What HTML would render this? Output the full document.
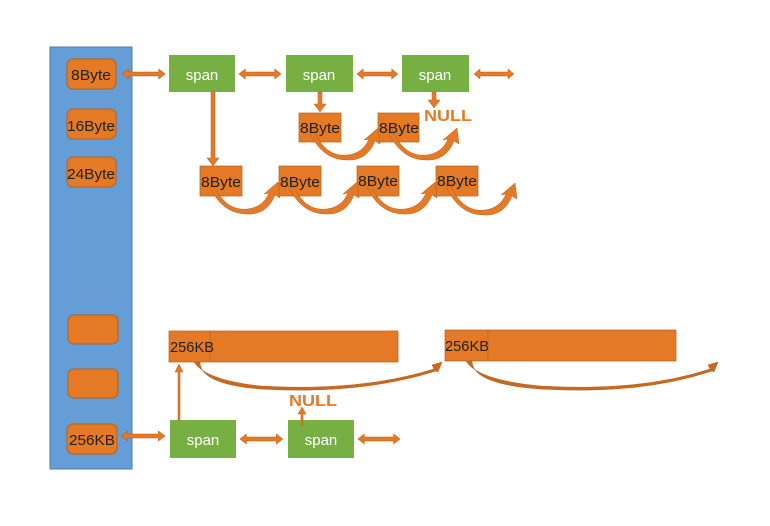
<!DOCTYPE html>
<html><head><style>
html,body{margin:0;padding:0;background:#fff;}
svg{display:block;font-family:"Liberation Sans","Noto Sans CJK SC",sans-serif;}
</style></head><body>
<svg width="770" height="526" viewBox="0 0 770 526" xmlns="http://www.w3.org/2000/svg">
<defs>
<g id="dbl">
<polygon points="0,0 6,-5 6,-2 34,-2 34,-5 40,0 34,5 34,2 6,2 6,5" fill="#e47a26" stroke="#b85e18" stroke-width="0.5"/>
</g>
<g id="curve">
<path d="M10,1 Q22,30 45,27 Q60,25 66,11 L61,12 L75,0 L77,16 L72,13 Q64,33 44,32 Q18,32 5,1 Z" fill="#e47a26" stroke="#b5601c" stroke-width="0.5"/>
</g>
</defs>
<rect x="50" y="47" width="82" height="422" fill="#659dd6" stroke="#4a7ab0" stroke-width="1"/>
<g fill="#e47a26" stroke="#b5601c" stroke-width="1">
<rect x="67" y="59" width="49" height="30" rx="6"/>
<rect x="67" y="109" width="49" height="30" rx="6"/>
<rect x="67" y="157" width="49" height="30" rx="6"/>
<rect x="68" y="315" width="50" height="29" rx="6"/>
<rect x="68" y="369" width="50" height="29" rx="6"/>
<rect x="67" y="424" width="50" height="30" rx="6"/>
</g>
<g font-size="15" fill="#222" text-anchor="middle">
<text x="91" y="80" textLength="40" lengthAdjust="spacingAndGlyphs">8Byte</text>
<text x="91" y="131" textLength="48" lengthAdjust="spacingAndGlyphs">16Byte</text>
<text x="91" y="179" textLength="48" lengthAdjust="spacingAndGlyphs">24Byte</text>
<text x="92" y="445" textLength="46" lengthAdjust="spacingAndGlyphs">256KB</text>
</g>
<g fill="#76b043">
<rect x="169" y="55" width="66" height="37"/>
<rect x="286" y="55" width="67" height="37"/>
<rect x="402" y="55" width="67" height="37"/>
<rect x="170" y="420" width="66" height="38"/>
<rect x="288" y="420" width="66" height="38"/>
</g>
<g font-size="15" fill="#fff" text-anchor="middle">
<text x="202" y="80">span</text>
<text x="319" y="80">span</text>
<text x="435" y="80">span</text>
<text x="203" y="445">span</text>
<text x="321" y="445">span</text>
</g>
<use href="#dbl" transform="translate(122,74) scale(1.08,1)"/>
<use href="#dbl" transform="translate(239,74) scale(1.05,1)"/>
<use href="#dbl" transform="translate(357,74) scale(1.02,1)"/>
<use href="#dbl" transform="translate(474,74)"/>
<use href="#dbl" transform="translate(121,436) scale(1.1,1)"/>
<use href="#dbl" transform="translate(240,439) scale(1.07,1)"/>
<use href="#dbl" transform="translate(358,439) scale(1.05,1)"/>
<g fill="#e47a26" stroke="#b5601c" stroke-width="0.5">
<polygon points="211,92 215,92 215,158 219,158 213,166 207,158 211,158"/>
<polygon points="318,92 322,92 322,104 326,104 320,112 314,104 318,104"/>
<polygon points="432,92 436,92 436,100 440,100 434,108 428,100 432,100"/>
<polygon points="178,420 180,420 180,372 183,372 179,364 175,372 178,372"/>
<polygon points="301,425 303,425 303,414 306,414 302,407 298,414 301,414"/>
</g>
<g fill="#e47a26" stroke="#b5601c" stroke-width="0.7">
<rect x="200" y="166" width="42" height="30"/>
<rect x="279" y="166" width="42" height="30"/>
<rect x="357" y="166" width="42" height="30"/>
<rect x="436" y="166" width="42" height="30"/>
<rect x="299" y="113" width="42" height="29"/>
<rect x="378" y="113" width="41" height="29"/>
<rect x="169" y="331" width="229" height="31"/>
<rect x="445" y="330" width="231" height="31"/>
<line x1="210" y1="331" x2="210" y2="362"/>
<line x1="488" y1="330" x2="488" y2="361"/>
</g>
<use href="#curve" transform="translate(203,182)"/>
<use href="#curve" transform="translate(282,182)"/>
<use href="#curve" transform="translate(360,182)"/>
<use href="#curve" transform="translate(440,183)"/>
<use href="#curve" transform="translate(303,128)"/>
<use href="#curve" transform="translate(382,128)"/>
<g font-size="15" fill="#222" text-anchor="middle">
<text x="221" y="187" textLength="40" lengthAdjust="spacingAndGlyphs">8Byte</text>
<text x="300" y="187" textLength="40" lengthAdjust="spacingAndGlyphs">8Byte</text>
<text x="378" y="186" textLength="40" lengthAdjust="spacingAndGlyphs">8Byte</text>
<text x="457" y="186" textLength="40" lengthAdjust="spacingAndGlyphs">8Byte</text>
<text x="320" y="133" textLength="40" lengthAdjust="spacingAndGlyphs">8Byte</text>
<text x="399" y="133" textLength="40" lengthAdjust="spacingAndGlyphs">8Byte</text>
<text x="192" y="352" textLength="44" lengthAdjust="spacingAndGlyphs">256KB</text>
<text x="467" y="351" textLength="44" lengthAdjust="spacingAndGlyphs">256KB</text>
</g>
<g font-size="16" font-weight="bold" fill="#e47a26">
<text x="424" y="121" textLength="48" lengthAdjust="spacingAndGlyphs">NULL</text>
<text x="289" y="406" textLength="48" lengthAdjust="spacingAndGlyphs">NULL</text>
</g>
<g fill="#c8691f" stroke="#b5601c" stroke-width="0.5">
<path d="M194,362 Q205,380 260,386 Q360,392 434,369 L432,365 L442,362 L438,372 L436,371 Q360,395 260,389 Q200,384 200,362 Z"/>
<path d="M466,361 Q477,380 540,386 Q640,392 710,369 L708,365 L718,362 L714,372 L712,371 Q640,395 540,389 Q472,384 472,361 Z"/>
</g>
</svg>
</body></html>
